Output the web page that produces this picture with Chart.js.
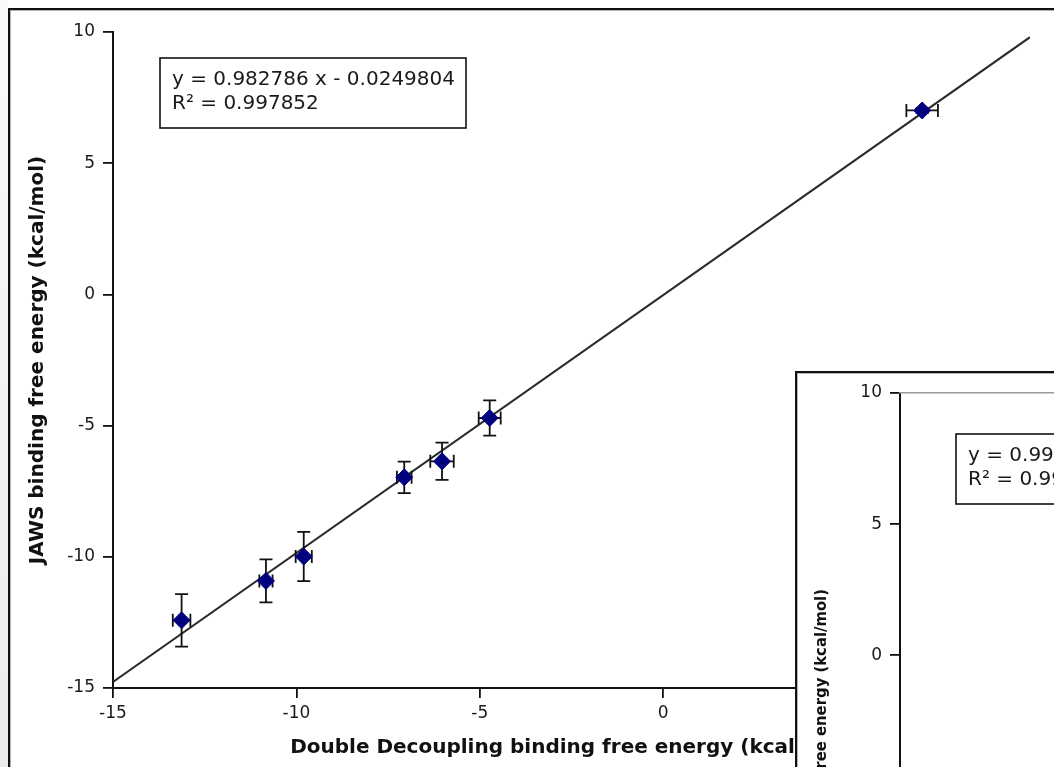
<!DOCTYPE html>
<html lang="en">
<head>
<meta charset="UTF-8">
<title>JAWS vs Double Decoupling</title>
<script src="https://cdn.jsdelivr.net/npm/chart.js"></script>
<style>
  html, body { margin: 0; padding: 0; width: 1054px; height: 767px; overflow: hidden; background: #fff; }
  .edge { position: absolute; left: 0; top: 0; width: 8px; height: 767px; background: linear-gradient(#fbfbfb, #ebebeb); }
  .frame { position: absolute; background: #fff; border-left: 2px solid #111; border-top: 2px solid #111; box-shadow: inset 1px 1px 0 #b4b4b4; overflow: hidden; }
  #mainFrame { left: 8px; top: 8px; width: 1100px; height: 800px; }
  #insetFrame { left: 795px; top: 371px; width: 400px; height: 500px; }
  canvas { position: absolute; left: 0; top: 0; }
</style>
</head>
<body>
<div class="edge"></div>
<div class="frame" id="mainFrame"><canvas id="mainChart" width="1044" height="757"></canvas></div>
<div class="frame" id="insetFrame"><canvas id="insetChart" width="1044" height="794"></canvas></div>

<script>
// main panel: double decoupling (x) vs JAWS (y), kcal/mol
const xTicks = [-15, -10, -5, 0, 5, 10];
const yTicks = [-15, -10, -5, 0, 5, 10];
const ddValues   = [-13.13, -10.83, -9.80, -7.06, -6.03, -4.73, 7.06];
const jawsValues = [-12.42, -10.92, -9.99, -6.97, -6.36, -4.71, 7.01];
const ddErrors   = [0.24, 0.18, 0.22, 0.20, 0.32, 0.30, 0.43];
const jawsErrors = [1.00, 0.82, 0.94, 0.60, 0.71, 0.67, 0.10];
const fitSlope = 0.982786;
const fitIntercept = -0.0249804;
const fitLabels = ['y = 0.982786 x - 0.0249804', 'R\u00b2 = 0.997852'];

// second panel, mostly hidden behind the window edge
const insetXTicks = [-15, -10, -5, 0, 5, 10];
const insetYTicks = [-15, -10, -5, 0, 5, 10];
const insetYRange = [-16.5, 10];
const insetSlope = 0.991833;
const insetIntercept = 0.0418562;
const insetLabels = ['y = 0.991833 x + 0.0418562', 'R\u00b2 = 0.996274'];

const FONT = '"DejaVu Sans", sans-serif';
const NARROW = '"DejaVu Sans Condensed", "Liberation Sans Narrow", "DejaVu Sans", sans-serif';
const INK = '#111';

const errorBars = {
  id: 'errorBars',
  beforeDatasetDraw(chart, args) {
    const ds = chart.data.datasets[args.index];
    if (!ds.xErr) return;
    const { ctx, scales: { x, y } } = chart;
    const cap = 6.5;
    ctx.save();
    ctx.strokeStyle = INK;
    ctx.lineWidth = 1.8;
    ds.data.forEach((p, i) => {
      const px = x.getPixelForValue(p.x);
      const py = y.getPixelForValue(p.y);
      const xl = x.getPixelForValue(p.x - ds.xErr[i]);
      const xr = x.getPixelForValue(p.x + ds.xErr[i]);
      const yt = y.getPixelForValue(p.y + ds.yErr[i]);
      const yb = y.getPixelForValue(p.y - ds.yErr[i]);
      ctx.beginPath();
      ctx.moveTo(xl, py); ctx.lineTo(xr, py);
      ctx.moveTo(xl, py - cap); ctx.lineTo(xl, py + cap);
      ctx.moveTo(xr, py - cap); ctx.lineTo(xr, py + cap);
      ctx.moveTo(px, yt); ctx.lineTo(px, yb);
      ctx.moveTo(px - cap, yt); ctx.lineTo(px + cap, yt);
      ctx.moveTo(px - cap, yb); ctx.lineTo(px + cap, yb);
      ctx.stroke();
    });
    ctx.restore();
  }
};

const fitBox = {
  id: 'fitBox',
  afterDraw(chart, args, opts) {
    if (!opts.lines) return;
    const { ctx, chartArea } = chart;
    const left = chartArea.left + opts.dx;
    const top = chartArea.top + opts.dy;
    ctx.save();
    ctx.fillStyle = '#fff';
    ctx.fillRect(left, top, opts.w, opts.h);
    ctx.strokeStyle = INK;
    ctx.lineWidth = 1.6;
    ctx.strokeRect(left, top, opts.w, opts.h);
    ctx.fillStyle = '#1a1a1a';
    ctx.font = '20px ' + FONT;
    ctx.textBaseline = 'middle';
    opts.lines.forEach((t, i) => ctx.fillText(t, left + 12, top + 22 + i * 24));
    ctx.restore();
  }
};

function axis(ticks, range, title, vertical, titleFont, titleGap) {
  return {
    type: 'linear',
    min: range[0],
    max: range[1],
    afterBuildTicks: s => { s.ticks = ticks.map(v => ({ value: v })); },
    afterFit: s => { if (vertical) s.width = 103; else s.height = 79; },
    grid: { display: true, drawOnChartArea: false, drawTicks: true, tickLength: 10, color: INK, lineWidth: 1.8 },
    border: { display: true, color: INK, width: 2 },
    ticks: { color: '#1a1a1a', font: { family: FONT, size: 17 }, padding: vertical ? 8 : 5 },
    title: {
      display: true, text: title, color: '#111',
      font: Object.assign({ weight: 'bold' }, titleFont),
      padding: vertical ? { top: titleGap, bottom: 0 } : { top: 0, bottom: 7 }
    }
  };
}

function makeChart(id, cfg) {
  const xRange = [cfg.xTicks[0], cfg.xTicks[cfg.xTicks.length - 1]];
  const yRange = cfg.yRange || [cfg.yTicks[0], cfg.yTicks[cfg.yTicks.length - 1]];
  const scales = {
    x: axis(cfg.xTicks, xRange, cfg.xTitle, false, cfg.titleFont),
    y: axis(cfg.yTicks, yRange, cfg.yTitle, true, cfg.titleFont, cfg.titleGap)
  };
  if (cfg.topRule) {
    scales.x2 = {
      type: 'linear', position: 'top', min: xRange[0], max: xRange[1],
      afterFit: s => { s.height = 0; },
      ticks: { display: false }, grid: { display: false },
      border: { display: true, color: '#9a9a9a', width: 1.5 }
    };
  }
  const datasets = [{
    type: 'line',
    data: xRange.map(v => ({ x: v, y: cfg.slope * v + cfg.intercept })),
    borderColor: '#2a2a2a', borderWidth: 2, pointRadius: 0, order: 3
  }];
  if (cfg.xs) {
    datasets.push({
      data: cfg.xs.map((v, i) => ({ x: v, y: cfg.ys[i] })),
      xErr: cfg.xErr, yErr: cfg.yErr,
      pointStyle: 'rectRot', pointRadius: 8.5,
      backgroundColor: '#00007f', borderColor: '#00007f', borderWidth: 1, order: 1
    });
  }
  return new Chart(document.getElementById(id), {
    type: 'scatter',
    data: { datasets },
    options: {
      responsive: false,
      animation: false,
      layout: { padding: { left: 0, top: cfg.top, right: 24, bottom: 0 } },
      plugins: {
        legend: { display: false },
        tooltip: { enabled: false },
        fitBox: { lines: cfg.labels, dx: cfg.boxDx, dy: cfg.boxDy, w: 306, h: 70 }
      },
      scales
    },
    plugins: [errorBars, fitBox]
  });
}

makeChart('mainChart', {
  xTicks, yTicks, xs: ddValues, ys: jawsValues, xErr: ddErrors, yErr: jawsErrors,
  slope: fitSlope, intercept: fitIntercept, labels: fitLabels,
  xTitle: 'Double Decoupling binding free energy (kcal/mol)',
  yTitle: 'JAWS binding free energy (kcal/mol)',
  top: 22, boxDx: 47, boxDy: 26, titleFont: { family: FONT, size: 20 }, titleGap: 16
});

makeChart('insetChart', {
  xTicks: insetXTicks, yTicks: insetYTicks, yRange: insetYRange,
  slope: insetSlope, intercept: insetIntercept, labels: insetLabels,
  xTitle: 'Double Decoupling binding free energy (kcal/mol)',
  yTitle: 'JAWS binding free energy (kcal/mol)',
  top: 20, boxDx: 56, boxDy: 41, titleFont: { family: NARROW, size: 16.5 }, titleGap: 15, topRule: true
});
</script>
</body>
</html>
